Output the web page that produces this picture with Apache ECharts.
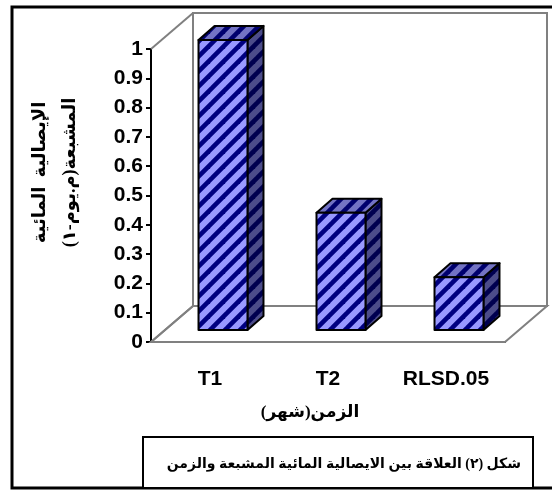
<!DOCTYPE html>
<html>
<head>
<meta charset="utf-8">
<script src="https://cdn.jsdelivr.net/npm/echarts@6/dist/echarts.min.js"></script>
<style>
  html, body { margin: 0; padding: 0; background: #fff; }
  #chart { width: 552px; height: 491px; }
</style>
</head>
<body>
<div id="chart" dir="rtl"></div>
<script>
// Saturated hydraulic conductivity by period
const categories = ['T1', 'T2', 'RLSD.05'];
const conductivity = [0.99, 0.40, 0.18];

const yAxisTitle = 'الإيصالية  المائية\nالمشبعة(م.يوم-١)';
const xAxisTitle = 'الزمن(شهر)';
const captionText = 'شكل (٢) العلاقة بين الايصالية المائية المشبعة والزمن';

const LATIN = "'Liberation Sans', Arial, 'DejaVu Sans', sans-serif";
const ARABIC = "'Liberation Serif', 'DejaVu Sans', serif";

// diagonal hatch tile ("/" stripes)
function hatch(light, dark) {
  const P = 15;
  const c = document.createElement('canvas');
  c.width = P; c.height = P;
  const g = c.getContext('2d');
  g.fillStyle = light;
  g.fillRect(0, 0, P, P);
  g.strokeStyle = dark;
  g.lineWidth = 4.6;
  for (let k = -1; k <= 1; k++) {
    g.beginPath();
    g.moveTo(k * P - 2, P + 2);
    g.lineTo(k * P + P + 2, -2);
    g.stroke();
  }
  return { image: c, repeat: 'repeat' };
}
const frontFill = hatch('#9999ff', '#000080');
const topFill = hatch('#7373c4', '#00006e');
const sideFill = hatch('#4c4c8a', '#000050');

// depth of the 3D box (back wall offset) and of the bars
const WALL_D = [42, -36];
const BAR_OFF = [13, -12];
const BAR_D = [16, -14];

const chart = echarts.init(document.getElementById('chart'), null, { renderer: 'canvas' });

chart.setOption({
  animation: false,
  backgroundColor: '#ffffff',
  grid: { left: 151, top: 49, width: 354, height: 293 },
  xAxis: {
    type: 'category',
    data: categories,
    axisLine: { lineStyle: { color: '#000', width: 2 } },
    axisTick: { length: 5, lineStyle: { color: '#000', width: 2 } },
    axisLabel: { color: '#000', fontSize: 21, fontWeight: 'bold', fontFamily: LATIN, margin: 27 },
    name: xAxisTitle,
    nameLocation: 'middle',
    nameGap: 62,
    nameTextStyle: { color: '#000', fontSize: 17, fontWeight: 'bold', fontFamily: ARABIC, padding: [0, 36, 0, 0] }
  },
  yAxis: {
    type: 'value',
    min: 0, max: 1, interval: 0.1,
    splitLine: { show: false },
    axisLine: { show: true, lineStyle: { color: '#000', width: 2 } },
    axisTick: { show: true, length: 5, lineStyle: { color: '#000', width: 2 } },
    axisLabel: { color: '#000', fontSize: 21, fontWeight: 'bold', fontFamily: LATIN, margin: 8 },
    name: yAxisTitle,
    nameLocation: 'middle',
    nameRotate: 90,
    nameGap: 66,
    nameTextStyle: { color: '#000', fontSize: 18, fontWeight: 'bold', fontFamily: ARABIC, lineHeight: 30, padding: [0, 0, 0, 46] }
  },
  series: [
    {
      // back wall, side wall and floor of the 3D box
      type: 'custom',
      z: 1,
      silent: true,
      data: [[0, 0]],
      renderItem: function (params, api) {
        const bw = api.size([1, 0])[0];
        const p0 = api.coord([0, 0]);
        const left = p0[0] - bw / 2;
        const right = api.coord([categories.length - 1, 0])[0] + bw / 2;
        const bottom = p0[1];
        const top = api.coord([0, 1])[1];
        const dx = WALL_D[0], dy = WALL_D[1];
        const wall = { fill: '#fff', stroke: '#808080', lineWidth: 2 };
        return {
          type: 'group',
          children: [
            { type: 'polygon', shape: { points: [[left + dx, top + dy], [right + dx, top + dy], [right + dx, bottom + dy], [left + dx, bottom + dy]] }, style: wall },
            { type: 'polygon', shape: { points: [[left, bottom], [left + dx, bottom + dy], [right + dx, bottom + dy], [right, bottom]] }, style: wall },
            { type: 'polyline', shape: { points: [[left, top], [left + dx, top + dy]] }, style: { stroke: '#808080', lineWidth: 2, fill: null } },
            { type: 'polyline', shape: { points: [[left, bottom], [left + dx, bottom + dy]] }, style: { stroke: '#808080', lineWidth: 2, fill: null } }
          ]
        };
      }
    },
    {
      // hatched 3D bars
      type: 'custom',
      z: 3,
      data: conductivity.map((v, i) => [i, v]),
      renderItem: function (params, api) {
        const i = api.value(0);
        const v = api.value(1);
        const pt = api.coord([i, v]);
        const pb = api.coord([i, 0]);
        const w = api.size([1, 0])[0] * 0.415;
        const x0 = pt[0] - w / 2 + BAR_OFF[0];
        const x1 = x0 + w;
        const yt = pt[1] + BAR_OFF[1];
        const yb = pb[1] + BAR_OFF[1];
        const dx = BAR_D[0], dy = BAR_D[1];
        const edge = { stroke: '#000', lineWidth: 2, lineJoin: 'round' };
        return {
          type: 'group',
          children: [
            { type: 'polygon', shape: { points: [[x1, yt], [x1 + dx, yt + dy], [x1 + dx, yb + dy], [x1, yb]] }, style: Object.assign({ fill: sideFill }, edge) },
            { type: 'polygon', shape: { points: [[x0, yt], [x0 + dx, yt + dy], [x1 + dx, yt + dy], [x1, yt]] }, style: Object.assign({ fill: topFill }, edge) },
            { type: 'rect', shape: { x: x0, y: yt, width: w, height: yb - yt }, style: Object.assign({ fill: frontFill }, edge) }
          ]
        };
      }
    }
  ],
  graphic: [
    {
      type: 'rect', z: 0, silent: true,
      shape: { x: 12, y: 7, width: 570, height: 481 },
      style: { fill: null, stroke: '#000', lineWidth: 3 }
    },
    {
      type: 'rect', z: 10, silent: true,
      shape: { x: 143, y: 437, width: 390, height: 51 },
      style: { fill: '#fff', stroke: '#000', lineWidth: 2 }
    },
    {
      type: 'text', z: 11, silent: true,
      x: 521, y: 464,
      style: { text: captionText, fill: '#000', font: 'bold 14px ' + ARABIC, textAlign: 'right', textVerticalAlign: 'middle' }
    }
  ]
});
</script>
</body>
</html>
